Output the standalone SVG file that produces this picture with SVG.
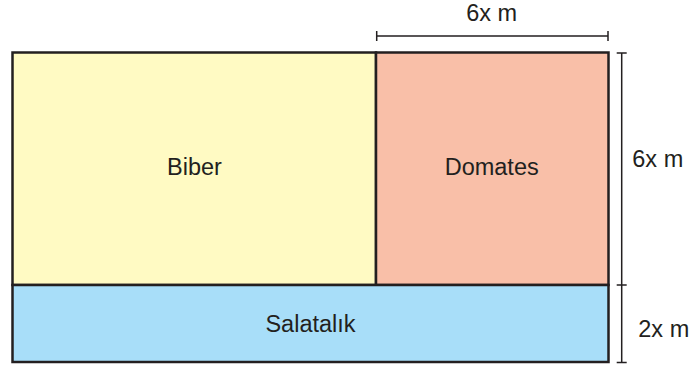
<svg xmlns="http://www.w3.org/2000/svg" width="693" height="370" viewBox="0 0 693 370">
<style>
.box{stroke:#231f20;stroke-width:2.5}
.dim{stroke:#231f20;stroke-width:1.5;fill:none}
text{font-family:"Liberation Sans",Arial,sans-serif;font-size:23.5px;fill:#231f20}
.c{text-anchor:middle}
</style>
<rect width="693" height="370" fill="#ffffff"/>
<g id="biber">
<rect class="box" x="12.5" y="52.5" width="363.5" height="232.5" fill="#fffac3"/>
<text class="c" x="194.5" y="175">Biber</text>
</g>
<g id="domates">
<rect class="box" x="376" y="52.5" width="232.5" height="232.5" fill="#f9bfa8"/>
<text class="c" x="491.7" y="174.5">Domates</text>
</g>
<g id="salatalik">
<rect class="box" x="12.5" y="285" width="596" height="77" fill="#a8def9"/>
<text class="c" x="310.5" y="331.5">Salatalık</text>
</g>
<g id="connectors">
<path class="dim" d="M376.7 36H608M376.7 31V41M608 31V41"/>
<path class="dim" d="M621.7 53V362.5M616.7 53H626.7M616.7 285H626.7M616.7 362.5H626.7"/>
</g>
<g id="labels">
<text class="c" x="491.7" y="20.5">6x m</text>
<text x="632.3" y="167.3">6x m</text>
<text x="638.3" y="336.5">2x m</text>
</g>
</svg>
